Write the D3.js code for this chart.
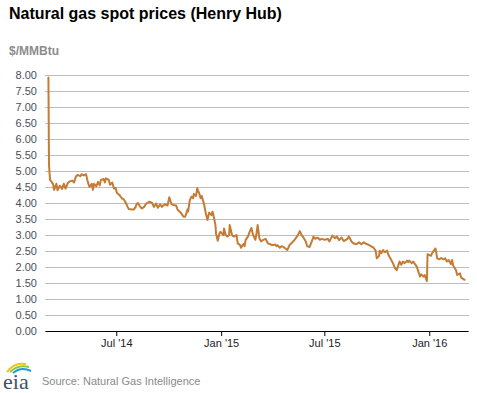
<!DOCTYPE html>
<html>
<head>
<meta charset="utf-8">
<script src="https://cdn.jsdelivr.net/npm/d3@7"></script>
<style>
  html, body { margin: 0; padding: 0; background: #fff; }
  svg { display: block; }
</style>
</head>
<body>
<script>
const title = "Natural gas spot prices (Henry Hub)";
const unitLabel = "$/MMBtu";
const sourceLabel = "Source: Natural Gas Intelligence";

const yTicks = [0, 0.5, 1, 1.5, 2, 2.5, 3, 3.5, 4, 4.5, 5, 5.5, 6, 6.5, 7, 7.5, 8];
const xTickDates = ["2014-07-01", "2015-01-01", "2015-07-01", "2016-01-01"];
const xTickLabels = ["Jul '14", "Jan '15", "Jul '15", "Jan '16"];
const xDomain = ["2014-02-26", "2016-03-09"];

const dates = [
"2014-03-04","2014-03-05","2014-03-06","2014-03-07","2014-03-12","2014-03-14","2014-03-18","2014-03-20","2014-03-24","2014-03-28",
"2014-03-31","2014-04-03","2014-04-07","2014-04-11","2014-04-15","2014-04-18","2014-04-21","2014-04-24","2014-04-29","2014-05-01",
"2014-05-05","2014-05-09","2014-05-12","2014-05-15","2014-05-19","2014-05-21","2014-05-23","2014-05-27","2014-05-30","2014-06-02",
"2014-06-04","2014-06-09","2014-06-11","2014-06-13","2014-06-18","2014-06-20","2014-06-24","2014-06-27","2014-06-30","2014-07-02",
"2014-07-07","2014-07-11","2014-07-14","2014-07-17","2014-07-21","2014-07-23","2014-07-28","2014-08-01","2014-08-04","2014-08-06",
"2014-08-08","2014-08-12","2014-08-15","2014-08-19","2014-08-22","2014-08-28","2014-09-02","2014-09-05","2014-09-09","2014-09-12",
"2014-09-16","2014-09-19","2014-09-24","2014-09-29","2014-10-02","2014-10-06","2014-10-09","2014-10-14","2014-10-17","2014-10-22",
"2014-10-27","2014-10-30","2014-11-03","2014-11-04","2014-11-07","2014-11-10","2014-11-13","2014-11-14","2014-11-18","2014-11-20",
"2014-11-24","2014-11-26","2014-11-28","2014-12-02","2014-12-05","2014-12-08","2014-12-11","2014-12-15","2014-12-17","2014-12-19",
"2014-12-22","2014-12-23","2014-12-26","2014-12-29","2014-12-31","2015-01-05","2015-01-06","2015-01-09","2015-01-12","2015-01-15",
"2015-01-16","2015-01-20","2015-01-23","2015-01-26","2015-01-28","2015-01-30","2015-02-03","2015-02-05","2015-02-09","2015-02-11",
"2015-02-13","2015-02-17","2015-02-20","2015-02-23","2015-02-26","2015-03-02","2015-03-04","2015-03-06","2015-03-09","2015-03-12",
"2015-03-16","2015-03-20","2015-03-24","2015-03-27","2015-03-31","2015-04-06","2015-04-08","2015-04-10","2015-04-14","2015-04-17",
"2015-04-21","2015-04-27","2015-04-29","2015-05-01","2015-05-05","2015-05-08","2015-05-12","2015-05-15","2015-05-19","2015-05-22",
"2015-05-26","2015-05-29","2015-06-01","2015-06-05","2015-06-09","2015-06-12","2015-06-15","2015-06-19","2015-06-23","2015-06-26",
"2015-07-02","2015-07-07","2015-07-10","2015-07-15","2015-07-20","2015-07-23","2015-07-27","2015-07-31","2015-08-04","2015-08-10",
"2015-08-13","2015-08-18","2015-08-21","2015-08-26","2015-08-31","2015-09-04","2015-09-08","2015-09-14","2015-09-17","2015-09-22",
"2015-09-25","2015-09-29","2015-10-01","2015-10-05","2015-10-06","2015-10-09","2015-10-12","2015-10-15","2015-10-19","2015-10-21",
"2015-10-23","2015-10-27","2015-10-30","2015-11-02","2015-11-05","2015-11-09","2015-11-10","2015-11-13","2015-11-16","2015-11-19",
"2015-11-23","2015-11-25","2015-11-27","2015-12-01","2015-12-04","2015-12-07","2015-12-10","2015-12-14","2015-12-16","2015-12-18",
"2015-12-22","2015-12-24","2015-12-28","2015-12-29","2016-01-04","2016-01-06","2016-01-08","2016-01-12","2016-01-15","2016-01-19",
"2016-01-22","2016-01-26","2016-01-29","2016-02-01","2016-02-04","2016-02-08","2016-02-10","2016-02-12","2016-02-17","2016-02-19",
"2016-02-24","2016-02-26","2016-03-03"
];

const prices = [
7.92,5.20,4.93,4.72,4.60,4.41,4.60,4.40,4.54,4.44,
4.60,4.45,4.63,4.68,4.70,4.64,4.82,4.88,4.84,4.90,
4.86,4.90,4.66,4.50,4.60,4.41,4.60,4.52,4.66,4.55,
4.72,4.75,4.64,4.77,4.72,4.57,4.64,4.45,4.47,4.32,
4.24,4.14,4.12,4.03,3.88,3.81,3.80,3.80,3.88,3.98,
4.00,3.88,3.83,3.88,3.97,4.04,4.00,3.88,3.98,3.85,
3.96,3.88,3.96,3.92,4.18,3.96,3.94,3.92,3.78,3.70,
3.57,3.57,3.80,3.73,4.09,4.20,4.15,4.28,4.22,4.46,
4.28,4.15,4.22,3.96,3.68,3.47,3.70,3.62,3.73,3.57,
3.31,3.05,2.82,3.05,3.10,3.00,3.20,3.00,2.95,3.00,
3.31,3.00,2.95,2.98,3.00,2.74,2.69,2.60,2.72,2.65,
2.85,2.95,3.10,3.22,3.00,2.85,3.05,3.31,2.90,2.80,
2.85,2.88,2.74,2.72,2.68,2.70,2.65,2.68,2.60,2.65,
2.62,2.53,2.60,2.69,2.76,2.81,2.90,2.98,3.12,3.00,
2.90,2.81,2.65,2.62,2.80,2.95,2.88,2.92,2.85,2.88,
2.85,2.88,2.80,2.98,2.90,2.95,2.84,2.92,2.81,2.87,
2.95,2.79,2.74,2.71,2.77,2.71,2.77,2.71,2.69,2.64,
2.61,2.51,2.27,2.35,2.51,2.43,2.53,2.46,2.51,2.40,
2.33,2.20,2.09,1.96,1.90,2.12,2.17,2.07,2.17,2.12,
2.20,2.15,2.20,2.12,2.17,2.09,2.02,1.80,1.70,1.77,
1.70,1.75,1.56,2.40,2.35,2.43,2.48,2.58,2.27,2.24,
2.28,2.24,2.27,2.17,2.22,2.09,2.22,2.05,1.90,1.75,
1.80,1.67,1.60
];

const W = 477, H = 393;
const margin = { left: 45, right: 9, top: 75, bottom: 62 };
const parse = d3.utcParse("%Y-%m-%d");
const data = dates.map((d, i) => ({ date: parse(d), value: prices[i] }));

const svg = d3.select("body").append("svg").attr("width", W).attr("height", H);

const x = d3.scaleUtc().domain(xDomain.map(parse)).range([45, 468]);
const y = d3.scaleLinear().domain([0, 8]).range([331, 75]);

const font = "Arial, 'Liberation Sans', Helvetica, sans-serif";

// Title
svg.append("text").attr("x", 9).attr("y", 18.5)
  .attr("font-family", font).attr("font-size", 16).attr("font-weight", "bold")
  .attr("fill", "#000").text(title);

svg.append("text").attr("x", 9).attr("y", 55)
  .attr("font-family", font).attr("font-size", 12).attr("font-weight", "bold")
  .attr("fill", "#8c8c8c").text(unitLabel);

// Gridlines + y labels
const yAxis = d3.axisLeft(y).tickValues(yTicks).tickFormat(d3.format(".2f"))
  .tickSize(-(469 - 45)).tickPadding(8);
const gy = svg.append("g").attr("transform", "translate(45,0)").call(yAxis);
gy.select(".domain").remove();
gy.selectAll(".tick line").attr("stroke", "#bdbdbd").attr("stroke-width", 1);
gy.selectAll(".tick text").attr("font-family", font).attr("font-size", 11).attr("fill", "#4a4f57");

// X axis
const xAxis = d3.axisBottom(x).tickValues(xTickDates.map(parse))
  .tickFormat((d, i) => xTickLabels[i]).tickSize(5).tickSizeOuter(0).tickPadding(3);
const gx = svg.append("g").attr("transform", "translate(0,331)").call(xAxis);
gx.select(".domain").attr("stroke", "#000").attr("stroke-width", 1.2);
gx.selectAll(".tick line").attr("stroke", "#000");
gx.selectAll(".tick text").attr("font-family", font).attr("font-size", 11).attr("fill", "#222");

// Line
const line = d3.line().x(d => x(d.date)).y(d => y(d.value));
svg.append("path").datum(data).attr("d", line)
  .attr("fill", "none").attr("stroke", "#c57b33").attr("stroke-width", 2)
  .attr("stroke-linejoin", "round").attr("stroke-linecap", "round");

// EIA logo
const logo = svg.append("g");
logo.append("path").attr("d", "M7,372 Q14,362 26,364").attr("fill", "none").attr("stroke", "#f2c318").attr("stroke-width", 2);
logo.append("path").attr("d", "M10,372 Q18,364 29,367").attr("fill", "none").attr("stroke", "#8cc641").attr("stroke-width", 2);
logo.append("path").attr("d", "M13,373 Q21,366 31,371").attr("fill", "none").attr("stroke", "#1e9ad6").attr("stroke-width", 2);
logo.append("text").attr("x", 3).attr("y", 389)
  .attr("font-family", "'Liberation Serif', 'DejaVu Serif', serif").attr("font-size", 22)
  .attr("fill", "#3f5168").text("eia");

svg.append("text").attr("x", 42).attr("y", 385)
  .attr("font-family", font).attr("font-size", 11).attr("fill", "#8a8a8a").text(sourceLabel);
</script>
</body>
</html>
